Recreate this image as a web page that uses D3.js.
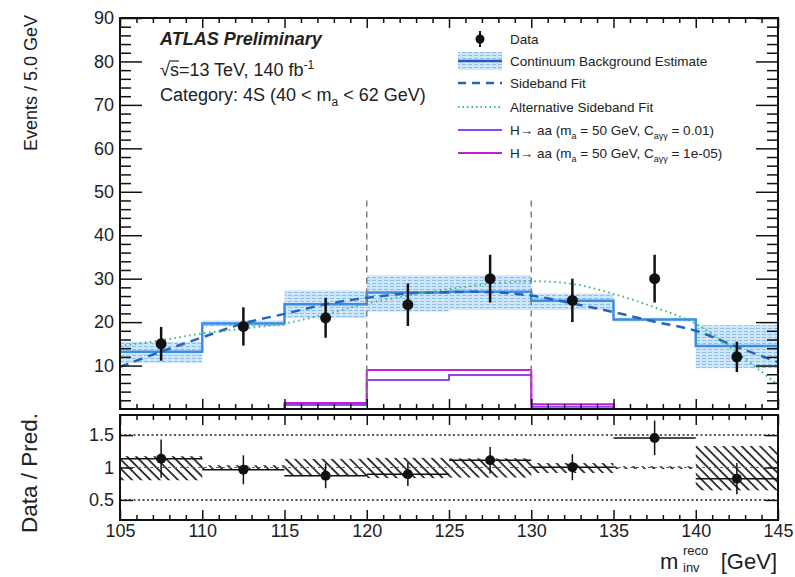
<!DOCTYPE html>
<html>
<head>
<meta charset="utf-8">
<script src="https://cdn.jsdelivr.net/npm/d3@7"></script>
<style>
body { margin: 0; background: #fff; }
svg { font-family: "Liberation Sans", Arial, sans-serif; }
</style>
</head>
<body>
<div class="demo"></div>
<script>
const w = 795, h = 577;
const left = 120, right = 778;
const mainTop = 18, mainBottom = 409;
const ratTop = 415, ratBottom = 520;

// histogram binning (GeV)
const binEdges = [105, 110, 115, 120, 125, 130, 135, 140, 145];
const binCenters = [107.5, 112.5, 117.5, 122.5, 127.5, 132.5, 137.5, 142.5];

// observed data
const dataCounts = [15, 19, 21, 24, 30, 25, 30, 12];
const dataErr = [3.9, 4.4, 4.6, 4.9, 5.5, 5.0, 5.5, 3.5];

// continuum background estimate + band
const bkgEst = [13.2, 19.7, 24.1, 26.8, 27.0, 24.9, 20.6, 14.5];
const bkgLo = [10.6, 19.0, 20.9, 22.4, 22.8, 22.8, 20.1, 9.4];
const bkgHi = [15.5, 20.4, 27.3, 30.8, 30.8, 26.6, 21.0, 19.3];

// signal templates
const sigC001 = [0, 0, 0.9, 6.7, 7.8, 0.5, 0, 0];
const sigC1e5 = [0, 0, 1.4, 9.0, 9.0, 1.1, 0, 0];

// fits
const fitX = [105, 107.5, 110, 112.5, 115, 117.5, 120, 122.5, 125, 127.5, 130, 132.5, 135, 137.5, 140, 142.5, 145];
const sidebandFit = [9.7, 13.2, 16.5, 19.7, 21.9, 24.1, 25.6, 26.6, 26.9, 26.9, 26.1, 24.3, 22.3, 20.1, 18.0, 14.3, 10.8];
const altSidebandFit = [14.5, 15.8, 17.4, 18.5, 19.7, 21.8, 24.3, 26.1, 27.6, 28.8, 29.4, 28.8, 26.5, 23.4, 19.6, 13.0, 5.5];

const signalWindow = [120, 130];
const yTicks = [10, 20, 30, 40, 50, 60, 70, 80, 90];
const xTicks = [105, 110, 115, 120, 125, 130, 135, 140, 145];
const ratioTicks = [0.5, 1, 1.5];

const colBkg = '#3a8ee6', colSB = '#2266bb', colAlt = '#33bb77';
const colSig1 = '#8f45f5', colSig2 = '#c21fd0';

let x = d3.scaleLinear().domain([105, 145]).range([left, right]);
let y = d3.scaleLinear().domain([0, 90]).range([mainBottom, mainTop]);
let yr = d3.scaleLinear().domain([0.19, 1.81]).range([ratBottom, ratTop]);

let svg = d3.select('.demo').append('svg').attr('width', w).attr('height', h);
svg.append('rect').attr('width', w).attr('height', h).attr('fill', '#fff');

let defs = svg.append('defs');
let bandPat = defs.append('pattern').attr('id', 'band')
    .attr('patternUnits', 'userSpaceOnUse').attr('width', 6).attr('height', 3);
bandPat.append('rect').attr('width', 6).attr('height', 3).attr('fill', '#cfe5fa');
bandPat.append('line').attr('x1', 0).attr('x2', 4).attr('y1', 1.5).attr('y2', 1.5)
    .attr('stroke', '#86bff0').attr('stroke-width', 1);

let hatch = defs.append('pattern').attr('id', 'hatch')
    .attr('patternUnits', 'userSpaceOnUse').attr('width', 6.5).attr('height', 6.5)
    .attr('patternTransform', 'rotate(-45)');
hatch.append('line').attr('x1', 1).attr('x2', 1).attr('y1', 0).attr('y2', 6.5)
    .attr('stroke', '#000').attr('stroke-width', 1.5);

// ---------- main panel ----------
let bins = d3.range(binCenters.length);

svg.append('g').selectAll('rect').data(bins).enter()
    .append('rect')
    .attr('x', i => x(binEdges[i]))
    .attr('width', i => x(binEdges[i + 1]) - x(binEdges[i]))
    .attr('y', i => y(bkgHi[i]))
    .attr('height', i => y(bkgLo[i]) - y(bkgHi[i]))
    .attr('fill', 'url(#band)');

let step = d3.line().x(d => x(d[0])).y(d => y(d[1])).curve(d3.curveStepAfter);
function histPts(vals, closed) {
    let pts = vals.map((v, i) => [binEdges[i], v]);
    pts.push([binEdges[binEdges.length - 1], vals[vals.length - 1]]);
    if (closed) {
        pts.unshift([binEdges[0], 0]);
        pts.push([binEdges[binEdges.length - 1], 0]);
    }
    return pts;
}

svg.append('path').attr('d', step(histPts(bkgEst, false)))
    .attr('fill', 'none').attr('stroke', colBkg).attr('stroke-width', 2.5);

let smooth = d3.line().x(d => x(d[0])).y(d => y(d[1])).curve(d3.curveCatmullRom);
svg.append('path').attr('d', smooth(fitX.map((v, i) => [v, sidebandFit[i]])))
    .attr('fill', 'none').attr('stroke', colSB).attr('stroke-width', 2.5)
    .attr('stroke-dasharray', '9,6');
svg.append('path').attr('d', smooth(fitX.map((v, i) => [v, altSidebandFit[i]])))
    .attr('fill', 'none').attr('stroke', colAlt).attr('stroke-width', 2)
    .attr('stroke-dasharray', '1.5,3.5');

svg.append('path').attr('d', step(histPts(sigC001, true)))
    .attr('fill', 'none').attr('stroke', colSig1).attr('stroke-width', 2);
svg.append('path').attr('d', step(histPts(sigC1e5, true)))
    .attr('fill', 'none').attr('stroke', colSig2).attr('stroke-width', 2);

svg.selectAll('.vline').data(signalWindow).enter()
    .append('line').attr('class', 'vline')
    .attr('x1', d => x(d)).attr('x2', d => x(d))
    .attr('y1', y(48)).attr('y2', mainBottom)
    .attr('stroke', '#808080').attr('stroke-width', 1.5).attr('stroke-dasharray', '6,5');

svg.append('g').selectAll('line').data(bins).enter()
    .append('line')
    .attr('x1', i => x(binCenters[i])).attr('x2', i => x(binCenters[i]))
    .attr('y1', i => y(dataCounts[i] - dataErr[i])).attr('y2', i => y(dataCounts[i] + dataErr[i]))
    .attr('stroke', '#111').attr('stroke-width', 2.5);
svg.append('g').selectAll('circle').data(bins).enter()
    .append('circle')
    .attr('cx', i => x(binCenters[i])).attr('cy', i => y(dataCounts[i]))
    .attr('r', 5.5).attr('fill', '#111');

// ---------- ratio panel ----------
svg.append('g').selectAll('rect').data(bins).enter()
    .append('rect')
    .attr('x', i => x(binEdges[i]))
    .attr('width', i => x(binEdges[i + 1]) - x(binEdges[i]))
    .attr('y', i => yr(bkgHi[i] / bkgEst[i]))
    .attr('height', i => yr(bkgLo[i] / bkgEst[i]) - yr(bkgHi[i] / bkgEst[i]))
    .attr('fill', 'url(#hatch)');

svg.selectAll('.rline').data([0.5, 1.5]).enter()
    .append('line').attr('class', 'rline')
    .attr('x1', left).attr('x2', right).attr('y1', d => yr(d)).attr('y2', d => yr(d))
    .attr('stroke', '#222').attr('stroke-width', 1.5).attr('stroke-dasharray', '2,2.5');
svg.append('line')
    .attr('x1', left).attr('x2', right).attr('y1', yr(1)).attr('y2', yr(1))
    .attr('stroke', '#666').attr('stroke-width', 1).attr('stroke-dasharray', '3,3');

let ratio = bins.map(i => dataCounts[i] / bkgEst[i]);
let ratioErr = bins.map(i => dataErr[i] / bkgEst[i]);

let rp = svg.append('g');
rp.selectAll('.rx').data(bins).enter().append('line').attr('class', 'rx')
    .attr('x1', i => x(binEdges[i])).attr('x2', i => x(binEdges[i + 1]))
    .attr('y1', i => yr(ratio[i])).attr('y2', i => yr(ratio[i]))
    .attr('stroke', '#111').attr('stroke-width', 1.5);
rp.selectAll('.ry').data(bins).enter().append('line').attr('class', 'ry')
    .attr('x1', i => x(binCenters[i])).attr('x2', i => x(binCenters[i]))
    .attr('y1', i => yr(ratio[i] - ratioErr[i])).attr('y2', i => yr(ratio[i] + ratioErr[i]))
    .attr('stroke', '#111').attr('stroke-width', 1.5);
rp.selectAll('circle').data(bins).enter().append('circle')
    .attr('cx', i => x(binCenters[i])).attr('cy', i => yr(ratio[i]))
    .attr('r', 5).attr('fill', '#111');

// ---------- axes ----------
function styleAxis(g) {
    g.select('.domain').remove();
    g.selectAll('line').attr('stroke', '#111').attr('stroke-width', 1.5);
    g.selectAll('text').attr('font-size', '18px').attr('fill', '#222')
        .attr('font-family', '"Liberation Sans", Arial, sans-serif');
}
let minorX = d3.range(105, 146).filter(d => d % 5 !== 0);
let minorY = d3.range(2, 90, 2).filter(d => d % 10 !== 0);

svg.append('g').attr('transform', 'translate(' + left + ',0)')
    .call(d3.axisLeft(y).tickValues(yTicks).tickSize(-22).tickPadding(6)).call(styleAxis);
svg.append('g').attr('transform', 'translate(' + left + ',0)')
    .call(d3.axisLeft(y).tickValues(minorY).tickSize(-11).tickFormat('')).call(styleAxis);
svg.append('g').attr('transform', 'translate(' + right + ',0)')
    .call(d3.axisRight(y).tickValues(yTicks).tickSize(-22).tickFormat('')).call(styleAxis);
svg.append('g').attr('transform', 'translate(' + right + ',0)')
    .call(d3.axisRight(y).tickValues(minorY).tickSize(-11).tickFormat('')).call(styleAxis);

[[mainTop, d3.axisTop], [mainBottom, d3.axisBottom], [ratTop, d3.axisTop]].forEach(function(a) {
    svg.append('g').attr('transform', 'translate(0,' + a[0] + ')')
        .call(a[1](x).tickValues(xTicks).tickSize(-10).tickFormat('')).call(styleAxis);
    svg.append('g').attr('transform', 'translate(0,' + a[0] + ')')
        .call(a[1](x).tickValues(minorX).tickSize(-5).tickFormat('')).call(styleAxis);
});
svg.append('g').attr('transform', 'translate(0,' + ratBottom + ')')
    .call(d3.axisBottom(x).tickValues(xTicks).tickSize(-10).tickPadding(4)).call(styleAxis);
svg.append('g').attr('transform', 'translate(0,' + ratBottom + ')')
    .call(d3.axisBottom(x).tickValues(minorX).tickSize(-5).tickFormat('')).call(styleAxis);

svg.append('g').attr('transform', 'translate(' + left + ',0)')
    .call(d3.axisLeft(yr).tickValues(ratioTicks).tickSize(-13).tickPadding(6).tickFormat(d3.format('~g'))).call(styleAxis);
svg.append('g').attr('transform', 'translate(' + right + ',0)')
    .call(d3.axisRight(yr).tickValues(ratioTicks).tickSize(-13).tickFormat('')).call(styleAxis);

svg.append('rect').attr('x', left).attr('y', mainTop)
    .attr('width', right - left).attr('height', mainBottom - mainTop)
    .attr('fill', 'none').attr('stroke', '#111').attr('stroke-width', 2);
svg.append('rect').attr('x', left).attr('y', ratTop)
    .attr('width', right - left).attr('height', ratBottom - ratTop)
    .attr('fill', 'none').attr('stroke', '#111').attr('stroke-width', 2);

// axis titles
svg.append('text').attr('transform', 'translate(37,15) rotate(-90)')
    .attr('text-anchor', 'end').attr('font-size', '18px').attr('fill', '#222')
    .text('Events / 5.0 GeV');
svg.append('text').attr('transform', 'translate(37,413) rotate(-90)')
    .attr('text-anchor', 'end').attr('font-size', '22.5px').attr('fill', '#222')
    .text('Data / Pred.');

let xt = svg.append('g').attr('fill', '#222');
xt.append('text').attr('x', 660).attr('y', 569).attr('font-size', '22px').text('m');
xt.append('text').attr('x', 683).attr('y', 555).attr('font-size', '13px').text('reco');
xt.append('text').attr('x', 683).attr('y', 572).attr('font-size', '13px').text('inv');
xt.append('text').attr('x', 777).attr('y', 569).attr('text-anchor', 'end').attr('font-size', '22px').text('[GeV]');

// ---------- labels ----------
let lab = svg.append('g').attr('fill', '#222');
lab.append('text').attr('x', 160).attr('y', 45).attr('font-size', '18px')
    .attr('font-weight', 'bold').attr('font-style', 'italic').text('ATLAS Preliminary');
let t2 = lab.append('text').attr('x', 160).attr('y', 76).attr('font-size', '18px');
t2.append('tspan').text('\u221As=13 TeV, 140 fb');
t2.append('tspan').attr('dy', -7).attr('font-size', '12px').text('-1');
let rootW = t2.node().getSubStringLength(0, 1), sW = t2.node().getSubStringLength(1, 1);
lab.append('line').attr('x1', 160 + rootW - 1).attr('x2', 160 + rootW + sW)
    .attr('y1', 61).attr('y2', 61).attr('stroke', '#222').attr('stroke-width', 1.2);
let t3 = lab.append('text').attr('x', 160).attr('y', 101).attr('font-size', '18px');
t3.append('tspan').text('Category: 4S (40 < m');
t3.append('tspan').attr('dy', 5).attr('font-size', '12px').text('a');
t3.append('tspan').attr('dy', -5).text(' < 62 GeV)');

// ---------- legend ----------
const legendLabels = ['Data', 'Continuum Background Estimate', 'Sideband Fit', 'Alternative Sideband Fit'];
const legendRows = [39, 61, 83, 107, 130, 153];
let lg = svg.append('g');
legendLabels.forEach(function(t, i) {
    lg.append('text').attr('x', 510).attr('y', legendRows[i] + 5)
        .attr('font-size', '13.5px').attr('fill', '#222').text(t);
});
[['0.01', colSig1], ['1e-05', colSig2]].forEach(function(s, k) {
    let yy = legendRows[4 + k];
    let t = lg.append('text').attr('x', 510).attr('y', yy + 5).attr('font-size', '13.5px').attr('fill', '#222');
    t.append('tspan').text('H\u2192 aa (m');
    t.append('tspan').attr('dy', 4).attr('font-size', '9px').text('a');
    t.append('tspan').attr('dy', -4).text(' = 50 GeV, C');
    t.append('tspan').attr('dy', 4).attr('font-size', '9px').text('a\u03B3\u03B3');
    t.append('tspan').attr('dy', -4).text(' = ' + s[0] + ')');
    lg.append('line').attr('x1', 458).attr('x2', 502).attr('y1', yy).attr('y2', yy)
        .attr('stroke', s[1]).attr('stroke-width', 2);
});
lg.append('line').attr('x1', 480).attr('x2', 480).attr('y1', 31).attr('y2', 47)
    .attr('stroke', '#111').attr('stroke-width', 2);
lg.append('circle').attr('cx', 480).attr('cy', 39).attr('r', 4.5).attr('fill', '#111');
lg.append('rect').attr('x', 458).attr('y', 52).attr('width', 44).attr('height', 18).attr('fill', 'url(#band)');
lg.append('line').attr('x1', 458).attr('x2', 502).attr('y1', 61).attr('y2', 61)
    .attr('stroke', '#2a55b8').attr('stroke-width', 2.5);
lg.append('line').attr('x1', 458).attr('x2', 502).attr('y1', 83).attr('y2', 83)
    .attr('stroke', colSB).attr('stroke-width', 2.5).attr('stroke-dasharray', '8,6');
lg.append('line').attr('x1', 458).attr('x2', 502).attr('y1', 107).attr('y2', 107)
    .attr('stroke', colAlt).attr('stroke-width', 2).attr('stroke-dasharray', '1.5,3');
</script>
</body>
</html>
